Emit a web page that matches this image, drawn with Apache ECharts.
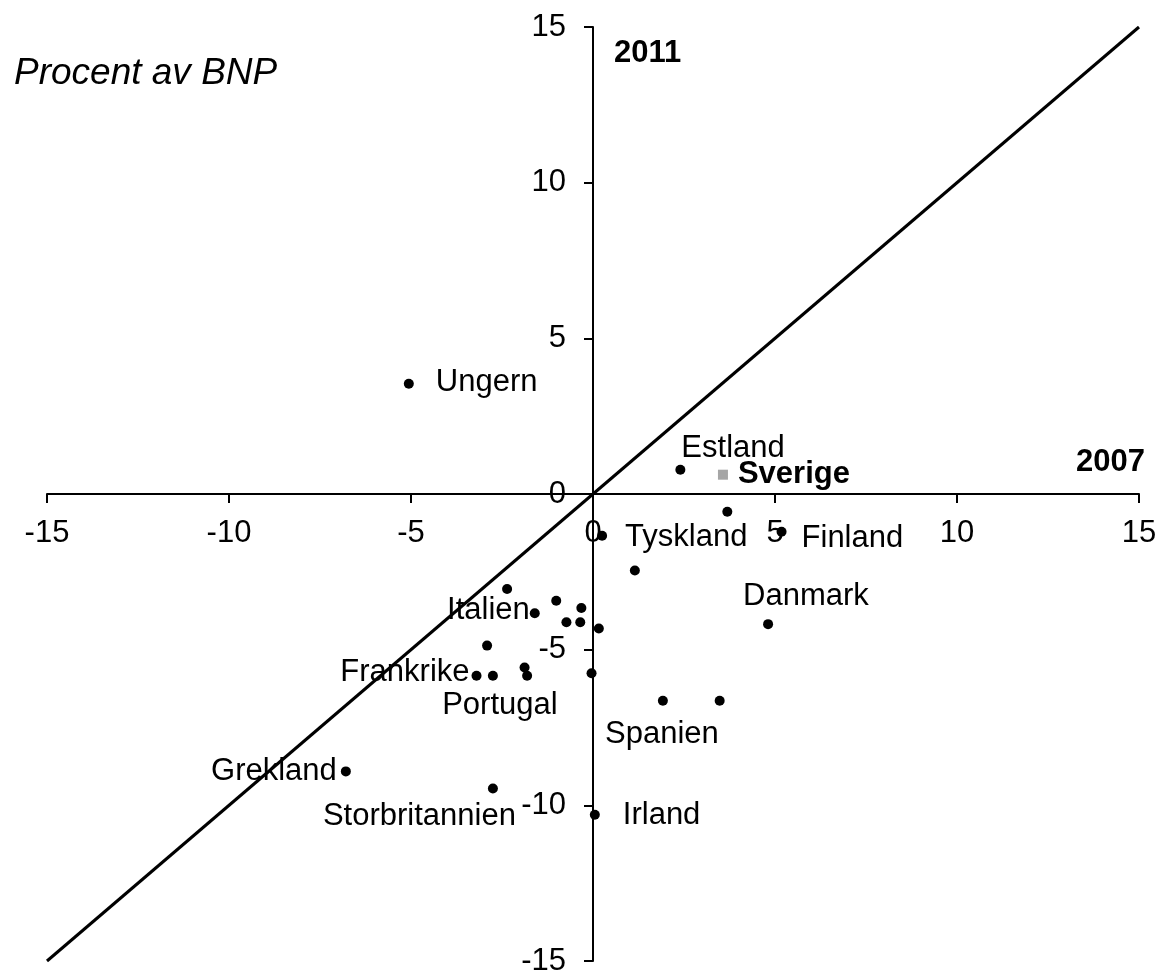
<!DOCTYPE html>
<html>
<head>
<meta charset="utf-8">
<script src="https://cdn.jsdelivr.net/npm/echarts@6/dist/echarts.min.js"></script>
<style>
html,body{margin:0;padding:0;background:#fff;}
#chart{width:1160px;height:972px;}
</style>
</head>
<body>
<div id="chart"></div>
<script>
// ---- Data (percent of GDP): x = 2007, y = 2011 ----
const countryNames = ['Ungern','Estland','','Finland','Tyskland','','Danmark','','','Italien','','','','','','','','Frankrike','Portugal','','Spanien','','Grekland','Storbritannien','Irland'];
const values2007 = [-5.06, 2.40, 3.69, 5.18, 0.25, 1.15, 4.81, -2.36, -1.01, -1.60, -0.32, -0.73, -0.35, 0.16, -2.91, -1.88, -1.81, -3.20, -2.75, -0.04, 1.92, 3.48, -6.79, -2.75, 0.05];
const values2011 = [3.54, 0.78, -0.57, -1.21, -1.34, -2.46, -4.18, -3.05, -3.43, -3.83, -3.66, -4.12, -4.12, -4.32, -4.87, -5.57, -5.84, -5.84, -5.84, -5.76, -6.64, -6.64, -8.91, -9.46, -10.30];
const swedenName = 'Sverige';
const sweden2007 = [3.57];
const sweden2011 = [0.62];
const diagonalX = [-15, 15];
const diagonalY = [-15, 15];
const axisTicks = [-15, -10, -5, 0, 5, 10, 15];

// ---- Label placement (style only) ----
const labelPlace = {
  'Ungern':        {align:'left',   offset:[27, -1.5]},
  'Estland':       {align:'left',   offset:[1, -21]},
  'Finland':       {align:'left',   offset:[20, 7]},
  'Tyskland':      {align:'left',   offset:[23, 2]},
  'Danmark':       {align:'left',   offset:[-25, -28]},
  'Italien':       {align:'right',  offset:[-5, -3]},
  'Frankrike':     {align:'right',  offset:[-7, -3]},
  'Portugal':      {align:'center', offset:[7, 30]},
  'Spanien':       {align:'center', offset:[-1, 34]},
  'Grekland':      {align:'right',  offset:[-9, 0]},
  'Storbritannien':{align:'right',  offset:[23, 28]},
  'Irland':        {align:'left',   offset:[28, 1]},
  'Sverige':       {align:'left',   offset:[15, 0]}
};

const FONT = "'Liberation Sans', Arial, sans-serif";
const W = 1160, H = 972;
const GRID = {left: 47, right: 21, top: 27, bottom: 11};
const plotW = W - GRID.left - GRID.right;
const plotH = H - GRID.top - GRID.bottom;

function makeItem(name, x, y, bold) {
  const item = {name: name, value: [x, y]};
  const p = labelPlace[name];
  if (name && p) {
    item.label = {
      show: true,
      formatter: name,
      position: ['50%', '50%'],
      align: p.align,
      verticalAlign: 'middle',
      offset: p.offset,
      fontSize: 31,
      fontFamily: FONT,
      fontWeight: bold ? 'bold' : 'normal',
      color: '#000',
      opacity: 1
    };
  }
  return item;
}

const countryData = countryNames.map((n, i) => makeItem(n, values2007[i], values2011[i], false));
const swedenData = sweden2007.map((x, i) => makeItem(swedenName, x, sweden2011[i], true));
const diagData = diagonalX.map((x, i) => [x, diagonalY[i]]);

const axisCommon = {
  type: 'value',
  min: axisTicks[0],
  max: axisTicks[axisTicks.length - 1],
  interval: axisTicks[1] - axisTicks[0],
  axisLine: {show: true, onZero: false, lineStyle: {color: '#000', width: 2}},
  axisTick: {show: true, length: 9, lineStyle: {color: '#000', width: 2}},
  splitLine: {show: false},
  axisLabel: {fontSize: 31, fontFamily: FONT, color: '#000'}
};

const chart = echarts.init(document.getElementById('chart'), null, {renderer: 'canvas'});
chart.setOption({
  animation: false,
  backgroundColor: '#fff',
  grid: Object.assign({containLabel: false, outerBoundsMode: 'none'}, GRID),
  xAxis: Object.assign({}, axisCommon, {
    position: 'bottom',
    offset: -plotH / 2,
    axisLabel: Object.assign({}, axisCommon.axisLabel, {margin: 24})
  }),
  yAxis: Object.assign({}, axisCommon, {
    position: 'left',
    offset: -plotW / 2,
    axisLabel: Object.assign({}, axisCommon.axisLabel, {margin: 27})
  }),
  graphic: [
    {type: 'text', left: 14, top: 55, style: {text: 'Procent av BNP', font: "italic 37px " + FONT, fill: '#000'}},
    {type: 'text', left: 614, top: 38, style: {text: '2011', font: "bold 31px " + FONT, fill: '#000'}},
    {type: 'text', left: 1076, top: 447, style: {text: '2007', font: "bold 31px " + FONT, fill: '#000'}}
  ],
  series: [
    {
      type: 'line',
      data: diagData,
      showSymbol: false,
      symbol: 'none',
      lineStyle: {color: '#000', width: 3},
      z: 1,
      silent: true
    },
    {
      type: 'scatter',
      data: countryData,
      symbol: 'circle',
      symbolSize: 10,
      itemStyle: {color: '#000', opacity: 1},
      z: 3
    },
    {
      type: 'scatter',
      data: swedenData,
      symbol: 'rect',
      symbolSize: 10,
      itemStyle: {color: '#a6a6a6', opacity: 1},
      z: 3
    }
  ]
});
</script>
</body>
</html>
